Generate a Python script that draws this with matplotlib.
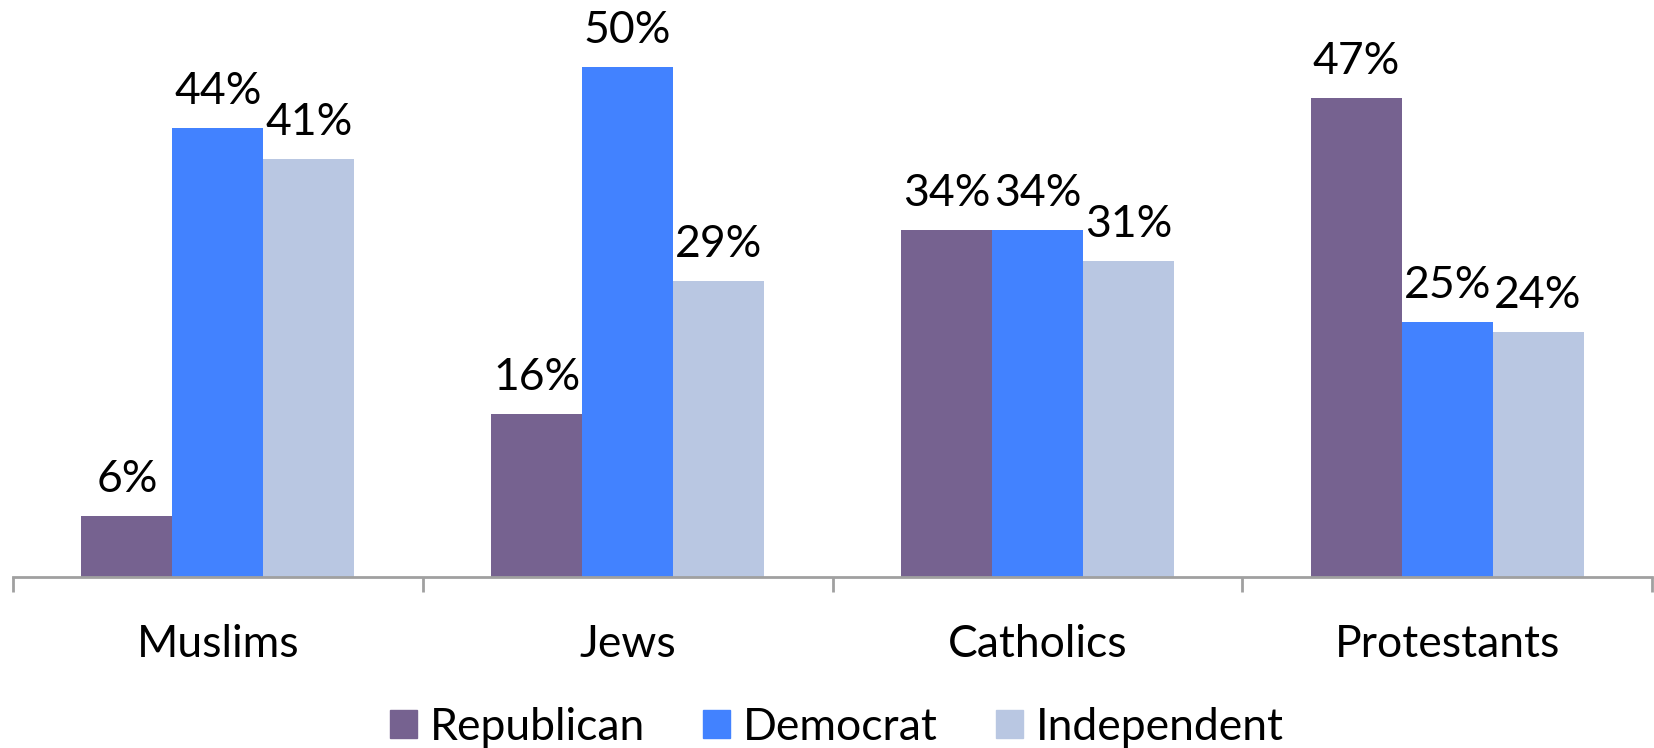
"""
Grouped bar chart: party identification by religious group.
Output: out.png
"""

import matplotlib.pyplot as plt
from matplotlib.patches import Patch
import numpy as np

categories = ["Muslims", "Jews", "Catholics", "Protestants"]
series = ["Republican", "Democrat", "Independent"]
republican = [6, 16, 34, 47]
democrat = [44, 50, 34, 25]
independent = [41, 29, 31, 24]
colors = ["#766290", "#4282FF", "#B9C7E2"]


def main() -> None:
    plt.rcParams["font.family"] = ["Lato", "DejaVu Sans"]
    W, H = 1654, 748
    fig = plt.figure(figsize=(W / 100, H / 100), dpi=100)
    ax = fig.add_axes([13 / W, (H - 577) / H, (1652 - 13) / W, 577 / H])

    values = [republican, democrat, independent]
    x = np.arange(len(categories))
    bw = 0.222
    for k, (name, vals) in enumerate(zip(series, values)):
        pos = x + (k - 1) * bw
        ax.bar(pos, vals, width=bw, color=colors[k], label=name)
        for p, v in zip(pos, vals):
            ax.annotate(f"{v}%", xy=(p, v), xytext=(0, 24 * 0.72),
                        textcoords="offset points", ha="center",
                        va="baseline", fontsize=32)

    ax.set_xlim(-0.5, len(categories) - 0.5)
    ax.set_ylim(0, 56.6)
    for s in ["top", "left", "right"]:
        ax.spines[s].set_visible(False)
    ax.spines["bottom"].set_color("#A0A0A0")
    ax.spines["bottom"].set_linewidth(2)
    ax.set_yticks([])
    ax.set_xticks(np.arange(len(categories) + 1) - 0.5)
    ax.set_xticklabels([])
    ax.tick_params(axis="x", length=11, width=2, color="#A0A0A0", direction="out")

    for i, c in enumerate(categories):
        ax.annotate(c, xy=(i, 0), xytext=(0, -80 * 0.72), textcoords="offset points",
                    ha="center", va="baseline", fontsize=32)

    handles = [Patch(color=colors[k], label=series[k]) for k in range(3)]
    fig.legend(handles=handles, loc="center", bbox_to_anchor=(837 / W, 1 - 727 / H),
               ncol=3, frameon=False, fontsize=32, handlelength=0.6,
               handleheight=0.6, handletextpad=0.3, columnspacing=1.3,
               borderpad=0, borderaxespad=0)

    fig.savefig("out.png", dpi=100)
    plt.close(fig)


if __name__ == "__main__":
    main()
